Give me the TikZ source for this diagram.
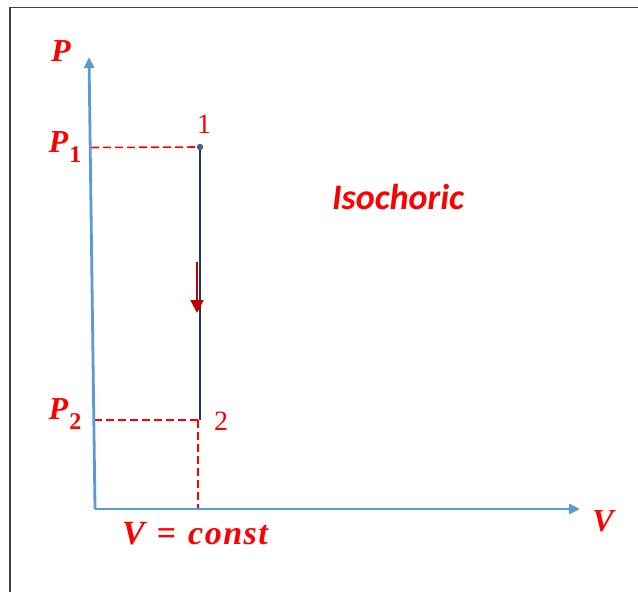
\documentclass[tikz,border=0pt]{standalone}
\usepackage{fontspec}
\setmainfont{Liberation Serif}
\newfontfamily\calib{Carlito}
\usetikzlibrary{arrows.meta}
\definecolor{axisblue}{HTML}{5B9BD5}
\definecolor{linenavy}{HTML}{1F3864}
\definecolor{arrred}{HTML}{C00000}
\definecolor{lblred}{HTML}{FF0000}
\newcommand{\subsc}[1]{\hspace{1pt}\raisebox{-0.3em}{\fontsize{24}{26}\selectfont\bfseries\upshape #1}}
\begin{document}
\begin{tikzpicture}[x=1pt,y=-1pt,
  axis/.style={draw=axisblue,line width=2.8pt,-{Triangle[length=11pt,width=10pt]}},
  guide/.style={draw=lblred,line width=1.6pt,dash pattern=on 8pt off 4pt},
  mlabel/.style={text=lblred,inner sep=0pt,font=\fontsize{32}{34}\selectfont\bfseries\itshape},
  nlabel/.style={text=lblred,inner sep=0pt,font=\fontsize{28}{30}\selectfont},
]
\useasboundingbox (0,0) rectangle (638,592);
\fill[white] (0,0) rectangle (638,592);
% frame
\draw[line width=1.2pt,draw=black!75] (10,600) -- (10,7.5) -- (645,7.5);
% coordinates
\coordinate (O) at (95,509);
\coordinate (Ptop) at (89,57);
\coordinate (Vend) at (580,509);
\coordinate (A) at (200,147);
\coordinate (B) at (200,420);
\coordinate (P1a) at (91,147.5);
\coordinate (P2a) at (94,420);
\coordinate (B2) at (198,420);
\coordinate (Vb) at (198,509);
\coordinate (R1) at (197,262);
\coordinate (R2) at (197,313);
% guides
\draw[guide] (P1a) -- (A);
\draw[guide] (B2) -- (P2a);
\draw[guide] (B2) -- (Vb);
% axes
\draw[axis] (O) -- (Ptop);
\draw[axis] (O) -- (Vend);
% process line
\draw[draw=linenavy,line width=2.8pt] (A) -- (B);
\fill[linenavy!80] (A) circle (3.2pt);
\draw[draw=arrred,line width=2.2pt,-{Triangle[length=13pt,width=13pt]}] (R1) -- (R2);
% labels
\node[mlabel] (lP) at (61,51) {P};
\node[mlabel] (lP1) at (65,147) {P\subsc{1}};
\node[mlabel] (lP2) at (65,414) {P\subsc{2}};
\node[nlabel] (l1) at (204,124) {1};
\node[nlabel] (l2) at (221,421) {2};
\node[mlabel] (lV) at (603,521) {V};
\node[mlabel,font=\fontsize{34}{36}\selectfont\bfseries\itshape] (lVc) at (195,534) {V\hspace{12pt}{\upshape=}\hspace{12pt}c\hspace{1.5pt}o\hspace{1.5pt}n\hspace{1.5pt}s\hspace{1.5pt}t};
\node[text=lblred,inner sep=0pt,font=\fontsize{36}{38}\selectfont\calib\bfseries\itshape] (iso) at (398,197) {Isochoric};
\end{tikzpicture}
\end{document}
